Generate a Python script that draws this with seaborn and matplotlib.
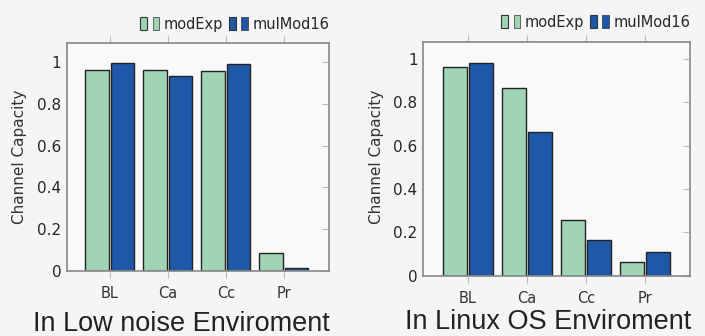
import matplotlib
matplotlib.use("Agg")
import matplotlib.pyplot as plt
import matplotlib.patches as mpatches
from matplotlib.legend_handler import HandlerTuple
import pandas as pd
import seaborn as sns

categories = ["BL", "Ca", "Cc", "Pr"]
series = ["modExp", "mulMod16"]

low_noise_modexp = [0.963, 0.962, 0.957, 0.089]
low_noise_mulmod = [0.993, 0.930, 0.992, 0.016]

linux_modexp = [0.960, 0.864, 0.255, 0.062]
linux_mulmod = [0.980, 0.660, 0.163, 0.110]

titles = ["In Low noise Enviroment", "In Linux OS Enviroment"]

colors = {"modExp": "#a0d4b4", "mulMod16": "#1f58a8"}


def make_frame(a, b):
    rows = []
    for c, v in zip(categories, a):
        rows.append({"cat": c, "series": "modExp", "value": v})
    for c, v in zip(categories, b):
        rows.append({"cat": c, "series": "mulMod16", "value": v})
    return pd.DataFrame(rows)


sns.set_style("white")
plt.rcParams["font.family"] = ["DejaVu Sans"]

fig = plt.figure(figsize=(7.05, 3.36), dpi=100)
fig.patch.set_facecolor("#f4f5f7")

ax1 = fig.add_axes([0.095, 0.193, 0.372, 0.679])
ax2 = fig.add_axes([0.600, 0.179, 0.379, 0.697])

data = [make_frame(low_noise_modexp, low_noise_mulmod),
        make_frame(linux_modexp, linux_mulmod)]
ylims = [1.09, 1.078]
xlims = [(-0.74, 3.78), (-0.76, 3.77)]
# (x center, y baseline) of the big caption in figure pixels
label_pos = [(181, 331), (548, 329)]
ylabel_x = [20, 377]

for ax, df, title, ytop, xl, lp, ylx in zip([ax1, ax2], data, titles, ylims,
                                            xlims, label_pos, ylabel_x):
    sns.barplot(data=df, x="cat", y="value", hue="series", order=categories,
                hue_order=series, palette=colors, saturation=1, width=0.88, gap=0.08,
                edgecolor="#222222", linewidth=1.0, legend=False, ax=ax)
    ax.set_facecolor("#f9f9f9")
    ax.set_ylim(0, ytop)
    ax.set_xlim(*xl)
    ax.set_yticks([0, 0.2, 0.4, 0.6, 0.8, 1])
    ax.set_yticklabels(["0", "0.2", "0.4", "0.6", "0.8", "1"], fontsize=11)
    ax.set_xticks(range(len(categories)))
    ax.set_xticklabels(categories, fontsize=10.5, color="#333333")
    ax.set_xlabel("")
    ax.set_ylabel("")
    fig.text(ylx / 705, 1 - 157 / 336, "Channel Capacity", rotation=90,
             fontsize=11, color="#333333", ha="center", va="center")
    fig.text(lp[0] / 705, 1 - lp[1] / 336, title, fontsize=19.5, color="#222222",
             ha="center", va="baseline", family=["Liberation Sans", "DejaVu Sans"])
    for s in ax.spines.values():
        s.set_color("#888888")
        s.set_linewidth(1.2)
    ax.tick_params(axis="x", direction="out", top=True, bottom=True,
                   length=5, color="#bbbbbb", pad=6)
    ax.tick_params(axis="y", direction="in", left=False, right=True,
                   length=5, color="#bbbbbb", pad=4)

    handles = []
    for name in series:
        big = mpatches.Patch(facecolor=colors[name], edgecolor="#333333", linewidth=0.8)
        small = mpatches.Patch(facecolor=colors[name], edgecolor="#333333", linewidth=0.5)
        handles.append((big, small))
    ax.legend(handles, series, handler_map={tuple: HandlerTuple(ndivide=None, pad=0.4)},
              loc="lower right", bbox_to_anchor=(1.0, 1.05), ncol=2, frameon=False,
              fontsize=10.5, handlelength=1.3, handleheight=1.0, handletextpad=0.3,
              columnspacing=0.4, borderaxespad=0, borderpad=0)

fig.savefig("out.png", dpi=100, facecolor=fig.get_facecolor())
